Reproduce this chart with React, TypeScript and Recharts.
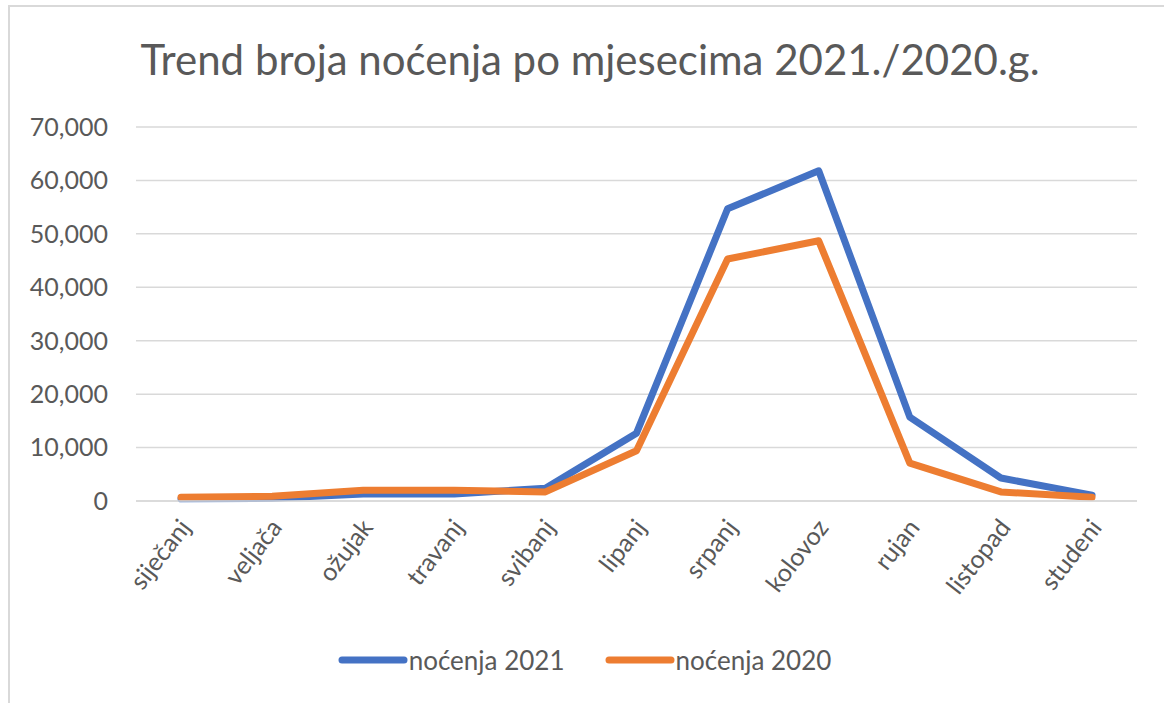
import React from 'react';
import { LineChart, Line, XAxis, YAxis, CartesianGrid, Legend } from 'recharts';

const months = ['siječanj', 'veljača', 'ožujak', 'travanj', 'svibanj', 'lipanj', 'srpanj', 'kolovoz', 'rujan', 'listopad', 'studeni'];
const nocenja2021 = [400, 500, 1300, 1300, 2400, 12700, 54700, 61800, 15700, 4300, 1100];
const nocenja2020 = [700, 900, 2000, 2000, 1700, 9400, 45300, 48700, 7100, 1700, 700];
const yTicks = [0, 10000, 20000, 30000, 40000, 50000, 60000, 70000];

const data = months.map((m, i) => ({ month: m, n2021: nocenja2021[i], n2020: nocenja2020[i] }));

const FONT = 'Lato, "Noto Sans", sans-serif';
const TEXT = '#595959';

const XTick = (props: any) => {
  const { x, y, payload } = props;
  const ax = x + 11;
  const ay = y + 27;
  return (
    <text
      x={ax}
      y={ay}
      transform={`rotate(-52, ${ax}, ${ay})`}
      textAnchor="end"
      fill={TEXT}
      fontSize={25}
      fontFamily={FONT}
    >
      {payload.value}
    </text>
  );
};

const LegendContent = () => {
  const items = [
    { label: 'noćenja 2021', color: '#4472C4' },
    { label: 'noćenja 2020', color: '#ED7D31' },
  ];
  return (
    <div style={{ display: 'flex', justifyContent: 'center', alignItems: 'center', height: 30, paddingLeft: 24, fontFamily: FONT, fontSize: 26, color: TEXT }}>
      {items.map((it, i) => (
        <div key={i} style={{ display: 'flex', alignItems: 'center', marginRight: i === 0 ? 40 : 0 }}>
          <svg width={70} height={10} style={{ marginRight: 1 }}>
            <line x1={4} y1={5} x2={66} y2={5} stroke={it.color} strokeWidth={7} strokeLinecap="round" />
          </svg>
          <span>{it.label}</span>
        </div>
      ))}
    </div>
  );
};

export default function App() {
  return (
    <div style={{ position: 'absolute', left: 0, top: 0, width: 1164, height: 703, background: '#fff', overflow: 'hidden' }}>
      <div style={{ position: 'absolute', left: 8, top: 5, width: 1170, height: 710, borderLeft: '2px solid #d9d9d9', borderTop: '2px solid #d9d9d9', boxSizing: 'border-box' }} />
      <div style={{ position: 'absolute', left: 0, top: 34, width: 1180, textAlign: 'center', fontFamily: FONT, fontSize: 42, color: TEXT, lineHeight: '50px' }}>
        Trend broja noćenja po mjesecima 2021./2020.g.
      </div>
      <div style={{ position: 'absolute', left: 0, top: 0 }}>
        <LineChart width={1164} height={703} data={data} margin={{ top: 127, right: 27, bottom: 28, left: 8 }}>
          <CartesianGrid vertical={false} stroke="#d9d9d9" strokeWidth={1.5} />
          <XAxis
            dataKey="month"
            axisLine={{ stroke: '#d9d9d9', strokeWidth: 1.5 }}
            tickLine={false}
            tickSize={0}
            tickMargin={0}
            tick={<XTick />}
            interval={0}
            height={144}
            padding={{ left: 45, right: 45 }}
          />
          <YAxis
            domain={[0, 70000]}
            ticks={yTicks}
            axisLine={false}
            tickLine={false}
            tickSize={0}
            tickMargin={28}
            width={128}
            tickFormatter={(v: number) => v.toLocaleString('en-US')}
            tick={{ fill: TEXT, fontSize: 25, fontFamily: FONT }}
          />
          <Legend verticalAlign="bottom" height={30} content={<LegendContent />} />
          <Line type="linear" dataKey="n2021" name="noćenja 2021" stroke="#4472C4" strokeWidth={7} dot={false} isAnimationActive={false} strokeLinejoin="round" strokeLinecap="round" />
          <Line type="linear" dataKey="n2020" name="noćenja 2020" stroke="#ED7D31" strokeWidth={7} dot={false} isAnimationActive={false} strokeLinejoin="round" strokeLinecap="round" />
        </LineChart>
      </div>
    </div>
  );
}
